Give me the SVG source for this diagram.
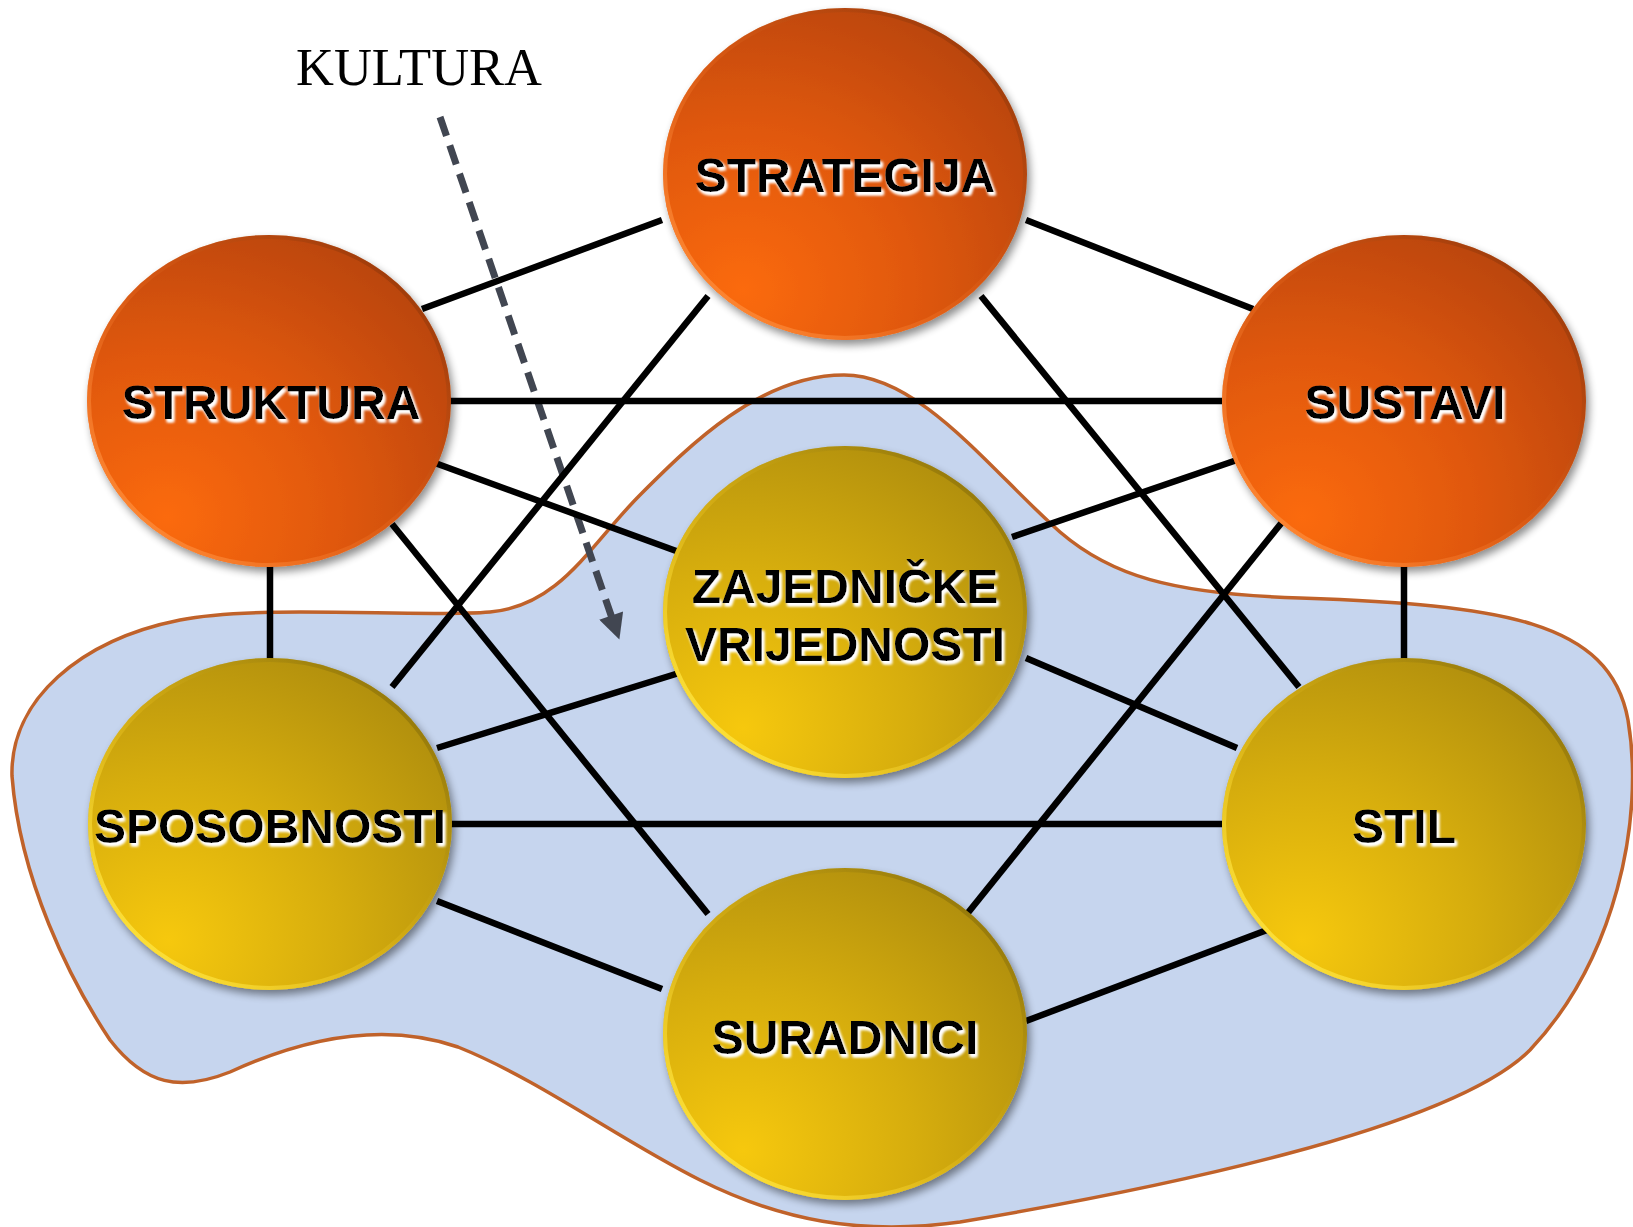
<svg xmlns="http://www.w3.org/2000/svg" width="1633" height="1227" viewBox="0 0 1633 1227">
<defs>
  <radialGradient id="gOrange" cx="0.22" cy="0.82" r="1.05" fx="0.22" fy="0.85">
    <stop offset="0" stop-color="#fb6a0b"/>
    <stop offset="0.45" stop-color="#e0580a"/>
    <stop offset="1" stop-color="#b0400a"/>
  </radialGradient>
  <radialGradient id="gYellow" cx="0.22" cy="0.82" r="1.05" fx="0.22" fy="0.85">
    <stop offset="0" stop-color="#f6c80b"/>
    <stop offset="0.45" stop-color="#d6ad0a"/>
    <stop offset="1" stop-color="#a8880a"/>
  </radialGradient>
  <linearGradient id="rimO" x1="0.1" y1="0.9" x2="0.9" y2="0.1">
    <stop offset="0" stop-color="#ff8d3a" stop-opacity="0.9"/>
    <stop offset="0.5" stop-color="#e86a20" stop-opacity="0.3"/>
    <stop offset="1" stop-color="#7a2c05" stop-opacity="0.5"/>
  </linearGradient>
  <linearGradient id="rimY" x1="0.1" y1="0.9" x2="0.9" y2="0.1">
    <stop offset="0" stop-color="#ffe640" stop-opacity="0.95"/>
    <stop offset="0.5" stop-color="#e8c020" stop-opacity="0.3"/>
    <stop offset="1" stop-color="#6e5a05" stop-opacity="0.5"/>
  </linearGradient>
  <filter id="shadow" x="-10%" y="-10%" width="125%" height="130%">
    <feGaussianBlur in="SourceAlpha" stdDeviation="4"/>
    <feOffset dx="3" dy="5" result="b"/>
    <feComponentTransfer><feFuncA type="linear" slope="0.45"/></feComponentTransfer>
    <feMerge><feMergeNode/><feMergeNode in="SourceGraphic"/></feMerge>
  </filter>
  <filter id="glow" x="-10%" y="-30%" width="120%" height="160%">
    <feOffset in="SourceAlpha" dx="2" dy="2.5" result="o"/>
    <feGaussianBlur in="o" stdDeviation="1.6" result="b"/>
    <feFlood flood-color="#ffffff"/>
    <feComposite in2="b" operator="in" result="w"/>
    <feMerge><feMergeNode in="w"/><feMergeNode in="w"/><feMergeNode in="SourceGraphic"/></feMerge>
  </filter>
  <marker id="arrowHead" viewBox="0 0 10 10" refX="1" refY="5" markerWidth="4" markerHeight="3.6" orient="auto" markerUnits="strokeWidth">
    <path d="M0,0 L10,5 L0,10 Z" fill="#414651"/>
  </marker>
  <style>
    .conn { stroke:#000; stroke-width:6.5; fill:none; }
    .orange { fill:url(#gOrange); }
    .yellow { fill:url(#gYellow); }
    .rimO { fill:none; stroke:url(#rimO); stroke-width:4; }
    .rimY { fill:none; stroke:url(#rimY); stroke-width:4; }
    .lbl { font-family:"Liberation Sans", Arial, Helvetica, sans-serif; font-weight:bold; font-size:48px; fill:#000; text-anchor:middle; }
  </style>
</defs>
<rect width="1633" height="1227" fill="#ffffff"/>

<g id="culture-region">
  <path d="M12,776 C10,700 80,640 180,620 C260,604 420,618 490,612 C560,606 590,545 640,495 C690,445 760,375 844,375 C920,375 990,470 1060,532 C1110,575 1170,594 1300,598 C1500,605 1610,620 1628,720 C1645,820 1615,960 1530,1050 C1450,1130 1150,1190 960,1222 C860,1236 780,1220 700,1180 C620,1140 540,1080 458,1047 C380,1020 300,1040 230,1072 C180,1092 145,1085 110,1040 C70,980 20,880 12,776 Z" fill="#c6d5ee" stroke="#c0622a" stroke-width="3.5"/>
</g>

<g id="kultura-label">
  <text x="296" y="85" font-family="'Liberation Serif', 'Times New Roman', serif" font-size="52" textLength="246" lengthAdjust="spacingAndGlyphs" fill="#000">KULTURA</text>
  <line x1="440" y1="117" x2="612" y2="618" stroke="#414651" stroke-width="7" stroke-dasharray="20 10" marker-end="url(#arrowHead)"/>
</g>

<g id="connectors">
  <line class="conn" x1="422" y1="309" x2="662" y2="220"/>
  <line class="conn" x1="1026" y1="220" x2="1253" y2="309"/>
  <line class="conn" x1="450" y1="401" x2="1222" y2="401"/>
  <line class="conn" x1="708" y1="296" x2="392" y2="687"/>
  <line class="conn" x1="981" y1="296" x2="1299" y2="687"/>
  <line class="conn" x1="435" y1="463" x2="679" y2="552"/>
  <line class="conn" x1="1237" y1="460" x2="1012" y2="537"/>
  <line class="conn" x1="270" y1="560" x2="270" y2="665"/>
  <line class="conn" x1="1404" y1="560" x2="1404" y2="665"/>
  <line class="conn" x1="392" y1="524" x2="708" y2="914"/>
  <line class="conn" x1="1283" y1="521" x2="967" y2="914"/>
  <line class="conn" x1="679" y1="673" x2="437" y2="748"/>
  <line class="conn" x1="1026" y1="658" x2="1237" y2="748"/>
  <line class="conn" x1="450" y1="824" x2="1222" y2="824"/>
  <line class="conn" x1="437" y1="901" x2="662" y2="989"/>
  <line class="conn" x1="1267" y1="930" x2="1026" y2="1021"/>
</g>

<g id="node-strategija">
  <ellipse cx="845" cy="174" rx="182" ry="166" class="orange" filter="url(#shadow)"/>
  <ellipse cx="845" cy="174" rx="180" ry="164" class="rimO"/>
  <text x="845" y="192" class="lbl" filter="url(#glow)">STRATEGIJA</text>
</g>
<g id="node-struktura">
  <ellipse cx="269" cy="401" rx="182" ry="166" class="orange" filter="url(#shadow)"/>
  <ellipse cx="269" cy="401" rx="180" ry="164" class="rimO"/>
  <text x="271" y="419" class="lbl" filter="url(#glow)">STRUKTURA</text>
</g>
<g id="node-sustavi">
  <ellipse cx="1404" cy="401" rx="182" ry="166" class="orange" filter="url(#shadow)"/>
  <ellipse cx="1404" cy="401" rx="180" ry="164" class="rimO"/>
  <text x="1405" y="419" class="lbl" filter="url(#glow)">SUSTAVI</text>
</g>
<g id="node-zajednicke-vrijednosti">
  <ellipse cx="845" cy="612" rx="182" ry="166" class="yellow" filter="url(#shadow)"/>
  <ellipse cx="845" cy="612" rx="180" ry="164" class="rimY"/>
  <text class="lbl" filter="url(#glow)"><tspan x="845" y="603">ZAJEDNIČKE</tspan><tspan x="845" y="661">VRIJEDNOSTI</tspan></text>
</g>
<g id="node-sposobnosti">
  <ellipse cx="270" cy="824" rx="182" ry="166" class="yellow" filter="url(#shadow)"/>
  <ellipse cx="270" cy="824" rx="180" ry="164" class="rimY"/>
  <text x="270" y="843" class="lbl" filter="url(#glow)">SPOSOBNOSTI</text>
</g>
<g id="node-stil">
  <ellipse cx="1404" cy="824" rx="182" ry="166" class="yellow" filter="url(#shadow)"/>
  <ellipse cx="1404" cy="824" rx="180" ry="164" class="rimY"/>
  <text x="1404" y="843" class="lbl" filter="url(#glow)">STIL</text>
</g>
<g id="node-suradnici">
  <ellipse cx="845" cy="1034" rx="182" ry="166" class="yellow" filter="url(#shadow)"/>
  <ellipse cx="845" cy="1034" rx="180" ry="164" class="rimY"/>
  <text x="845" y="1054" class="lbl" filter="url(#glow)">SURADNICI</text>
</g>
</svg>
